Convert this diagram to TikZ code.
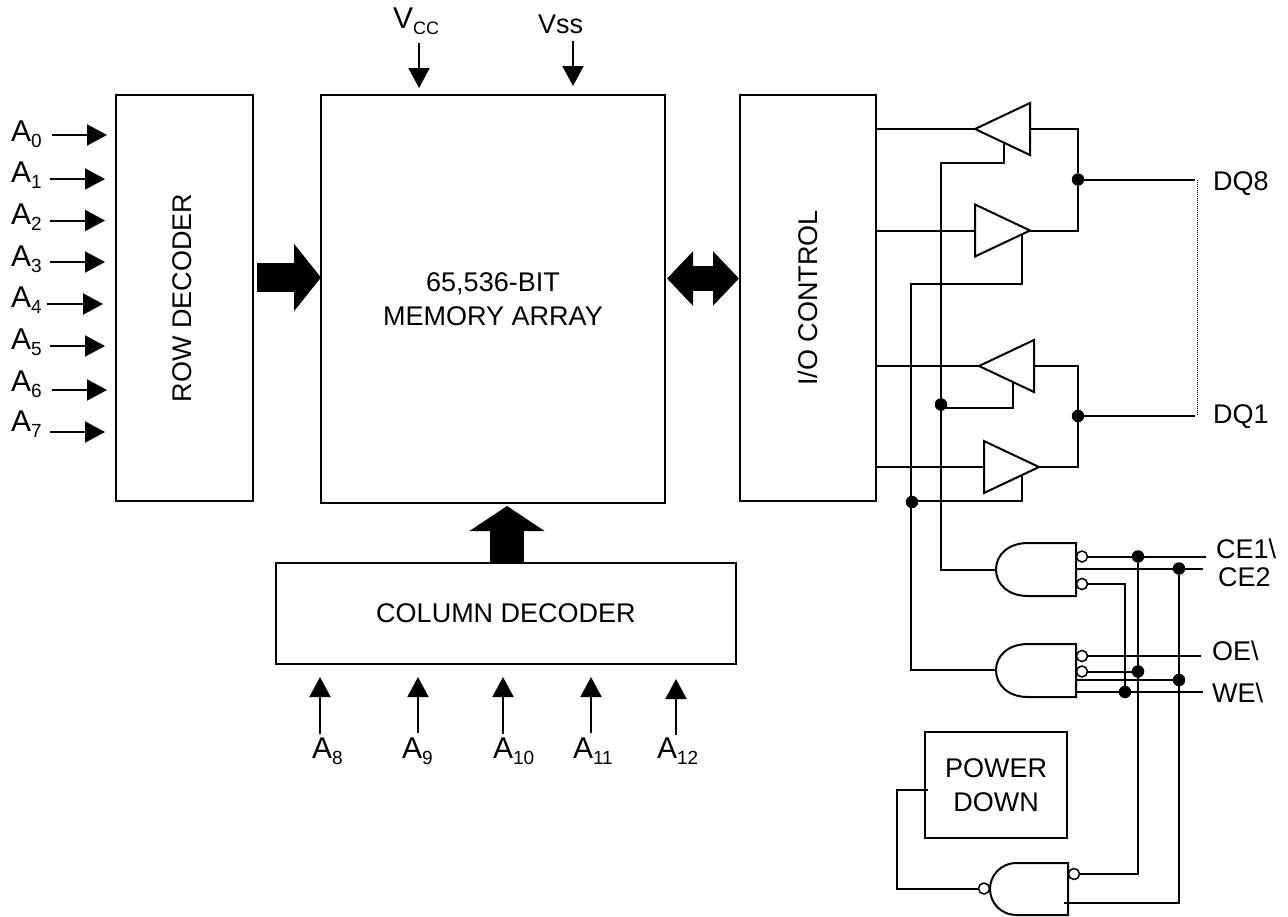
\documentclass[tikz,border=0pt]{standalone}
\usepackage{fontspec}
\setmainfont{Liberation Sans}
\usetikzlibrary{arrows.meta}
\usetikzlibrary{shapes.geometric}
\newcommand{\subfont}{\fontsize{19}{19}\selectfont}
\newcommand{\addr}[1]{A\raisebox{-6pt}{\subfont #1}}
\tikzset{
  block/.style={shape=rectangle,draw,line width=2pt,align=center},
  wire/.style={line width=2pt},
  sig/.style={line width=2pt,-{Triangle[length=20pt,width=21pt]}},
  buffer/.style={shape=isosceles triangle,draw,line width=2pt,isosceles triangle stretches=true,
    minimum width=52pt,minimum height=55pt,inner sep=0pt},
  gate/.style={draw,line width=2pt},
  dot/.style={shape=circle,fill=black,minimum size=12.5pt,inner sep=0pt},
  bubble/.style={shape=circle,draw,fill=white,line width=1.5pt,minimum size=11pt,inner sep=0pt},
  pinname/.style={anchor=base west},
  addrname/.style={anchor=base west,font=\fontsize{30}{30}\selectfont}
}
\begin{document}
\begin{tikzpicture}
[x=1pt,y=-1pt,%
  every node/.style={inner sep=0pt,outer sep=0pt,font=\fontsize{27}{34}\selectfont}]
\useasboundingbox (0,0) rectangle (1288,916);
\node[block,minimum width=137pt,minimum height=406pt] (rowdec) at (184.5,298) {};
\node[rotate=90] (rowname) at (182,298) {ROW DECODER};
\node[block,minimum width=344pt,minimum height=408pt] (memarray) at (493,299) {65,536-BIT\\MEMORY ARRAY};
\node[block,minimum width=136pt,minimum height=406pt] (ioctrl) at (808,298) {};
\node[rotate=90] (ioname) at (808,298) {I/O CONTROL};
\node[block,minimum width=460pt,minimum height=101pt] (coldec) at (506,613.5) {COLUMN DECODER};
\node[block,minimum width=142pt,minimum height=106pt] (pwrdown) at (996,785) {POWER\\DOWN};

\node[addrname] (a0) at (11,141) {\addr{0}};
\node[addrname] (a1) at (11,182) {\addr{1}};
\node[addrname] (a2) at (11,224) {\addr{2}};
\node[addrname] (a3) at (11,266) {\addr{3}};
\node[addrname] (a4) at (11,307) {\addr{4}};
\node[addrname] (a5) at (11,349) {\addr{5}};
\node[addrname] (a6) at (11,391) {\addr{6}};
\node[addrname] (a7) at (11,431) {\addr{7}};
\coordinate (a0tail) at (52,135); \coordinate (a0tip) at (107,135);
\coordinate (a1tail) at (50,179); \coordinate (a1tip) at (105,179);
\coordinate (a2tail) at (50,220.5); \coordinate (a2tip) at (105,220.5);
\coordinate (a3tail) at (50,262); \coordinate (a3tip) at (105,262);
\coordinate (a4tail) at (47,304); \coordinate (a4tip) at (103,304);
\coordinate (a5tail) at (50,346); \coordinate (a5tip) at (105,346);
\coordinate (a6tail) at (52,390); \coordinate (a6tip) at (107,390);
\coordinate (a7tail) at (50,432); \coordinate (a7tip) at (105,432);
\draw[sig] (a0tail) -- (a0tip);
\draw[sig] (a1tail) -- (a1tip);
\draw[sig] (a2tail) -- (a2tip);
\draw[sig] (a3tail) -- (a3tip);
\draw[sig] (a4tail) -- (a4tip);
\draw[sig] (a5tail) -- (a5tip);
\draw[sig] (a6tail) -- (a6tip);
\draw[sig] (a7tail) -- (a7tip);

\node[addrname] (a8) at (312,758) {\addr{8}};
\node[addrname] (a9) at (402,758) {\addr{9}};
\node[addrname] (a10) at (493,758) {\addr{10}};
\node[addrname] (a11) at (573,758) {\addr{11}};
\node[addrname] (a12) at (657,758) {\addr{12}};
\coordinate (a8tail) at (320,734); \coordinate (a8tip) at (320,677);
\coordinate (a9tail) at (418,733); \coordinate (a9tip) at (418,677);
\coordinate (a10tail) at (503,734); \coordinate (a10tip) at (503,677);
\coordinate (a11tail) at (591,733); \coordinate (a11tip) at (591,677);
\coordinate (a12tail) at (676,735); \coordinate (a12tip) at (676,679);
\draw[sig] (a8tail) -- (a8tip);
\draw[sig] (a9tail) -- (a9tip);
\draw[sig] (a10tail) -- (a10tip);
\draw[sig] (a11tail) -- (a11tip);
\draw[sig] (a12tail) -- (a12tip);

\node[addrname] (vcc) at (393,28) {V\raisebox{-6pt}{\fontsize{18}{18}\selectfont CC}};
\node[pinname] (vss) at (538,33) {Vss};
\coordinate (vcctail) at (419,43); \coordinate (vcctip) at (419,88);
\coordinate (vsstail) at (573,41); \coordinate (vsstip) at (573,86);
\draw[sig] (vcctail) -- (vcctip);
\draw[sig] (vsstail) -- (vsstip);

\coordinate (rowout) at (257,277.5); \coordinate (memin) at (321,277.5);
\draw[line width=29pt,-{Triangle[length=27pt,width=66pt]}] (rowout) -- (memin);
\coordinate (memio) at (667,278.5); \coordinate (iomem) at (739,278.5);
\draw[line width=25pt,{Triangle[length=26pt,width=53pt]}-{Triangle[length=26pt,width=53pt]}] (memio) -- (iomem);
\coordinate (colout) at (507,562); \coordinate (memcol) at (507,506);
\draw[line width=34pt,-{Triangle[length=25pt,width=74pt]}] (colout) -- (memcol);

\node[buffer,shape border rotate=180,anchor=apex] (bufa) at (975,129) {};
\node[buffer,anchor=apex] (bufb) at (1030,230.5) {};
\node[buffer,shape border rotate=180,anchor=apex] (bufc) at (979,366) {};
\node[buffer,anchor=apex] (bufd) at (1039,467) {};
\node[dot] (jdq8) at (1078,179.5) {};
\node[dot] (jdq1) at (1078,416) {};
\node[dot] (jenc) at (941,404.5) {};
\node[dot] (jend) at (912,502) {};
\node[pinname] (dq8) at (1213,190) {DQ8};
\node[pinname] (dq1) at (1213,423) {DQ1};
\coordinate (dq8end) at (1195,179.5);
\coordinate (dq1end) at (1195,416);
\coordinate (dotsa) at (1197,179.5);
\coordinate (dotsb) at (1197,414);
\draw[wire] (ioctrl.east |- bufa.apex) -- (bufa.apex);
\draw[wire] (ioctrl.east |- bufb.lower side) -- (bufb.lower side);
\draw[wire] (ioctrl.east |- bufc.apex) -- (bufc.apex);
\draw[wire] (ioctrl.east |- bufd.lower side) -- (bufd.lower side);
\draw[wire] (bufa.lower side) -| (jdq8);
\draw[wire] (bufb.apex) -| (jdq8);
\draw[wire] (bufc.lower side) -| (jdq1);
\draw[wire] (bufd.apex) -| (jdq1);
\draw[wire] (jdq8) -- (dq8end);
\draw[wire] (jdq1) -- (dq1end);
\draw[line width=1pt,densely dotted] (dotsa) -- (dotsb);

\node[pinname] (ce1) at (1216,558) {CE1\textbackslash};
\node[pinname] (ce2) at (1218,586) {CE2};
\node[pinname] (oe) at (1212,660) {OE\textbackslash};
\node[pinname] (we) at (1212,702) {WE\textbackslash};

\coordinate (gatea) at (996,569.5);
\coordinate (gateb) at (996,670);
\draw[gate] (1076,543) -- (1028,543) .. controls (1008,543) and (996,555) .. (gatea)
  .. controls (996,584) and (1008,596) .. (1028,596) -- (1076,596) -- cycle;
\draw[gate] (1076,644) -- (1028,644) .. controls (1008,644) and (996,656) .. (gateb)
  .. controls (996,685) and (1008,697) .. (1028,697) -- (1076,697) -- cycle;
\draw[gate] (1068,863) -- (1017,863) .. controls (1000,863) and (990,876) .. (990,889)
  .. controls (990,902) and (1000,915) .. (1017,915) -- (1068,915) -- cycle;
\node[bubble] (bubblea) at (1082,556.5) {};
\node[bubble] (bubbleb) at (1082,584) {};
\node[bubble] (bubblec) at (1082,656) {};
\node[bubble] (bubbled) at (1082,671.5) {};
\node[bubble] (bubblee) at (984,888.5) {};
\node[bubble] (bubblef) at (1074,874) {};
\node[dot] (jce1) at (1138,556.5) {};
\node[dot] (jce2) at (1179,568.5) {};
\node[dot] (jce1b) at (1138,671.5) {};
\node[dot] (jce2b) at (1179,680) {};
\node[dot] (jwe) at (1125,692) {};

\coordinate (ena) at (1004,143); \coordinate (kneea) at (940.5,163);
\coordinate (enb) at (1022,235); \coordinate (kneeb) at (911,284);
\coordinate (enc) at (1013,382); \coordinate (kneec) at (941,408);
\coordinate (end) at (1022,475); \coordinate (kneed) at (912,501);
\draw[wire] (ena) |- (kneea) |- (gatea);
\draw[wire] (enb) |- (kneeb) |- (gateb);
\draw[wire] (enc) |- (kneec);
\draw[wire] (end) |- (kneed);

\coordinate (ce1end) at (1206,556.5);
\coordinate (ce2start) at (1076,568.5); \coordinate (ce2end) at (1203,568.5);
\coordinate (oeend) at (1201,656);
\coordinate (gbwe) at (1076,680);
\coordinate (gcwe) at (1076,692); \coordinate (weend) at (1203,692);
\coordinate (nandb) at (1064,903);
\coordinate (kneep) at (897,790); \coordinate (pdout) at (928,790);
\draw[wire] (bubblea) -- (ce1end);
\draw[wire] (ce2start) -- (ce2end);
\draw[wire] (bubbleb) -| (jwe);
\draw[wire] (bubblec) -- (oeend);
\draw[wire] (bubbled) -- (jce1b);
\draw[wire] (gbwe) -- (jce2b);
\draw[wire] (gcwe) -- (weend);
\draw[wire] (jce1) |- (bubblef);
\draw[wire] (jce2) |- (nandb);
\draw[wire] (bubblee) -| (kneep) -- (pdout);
\end{tikzpicture}
\end{document}
